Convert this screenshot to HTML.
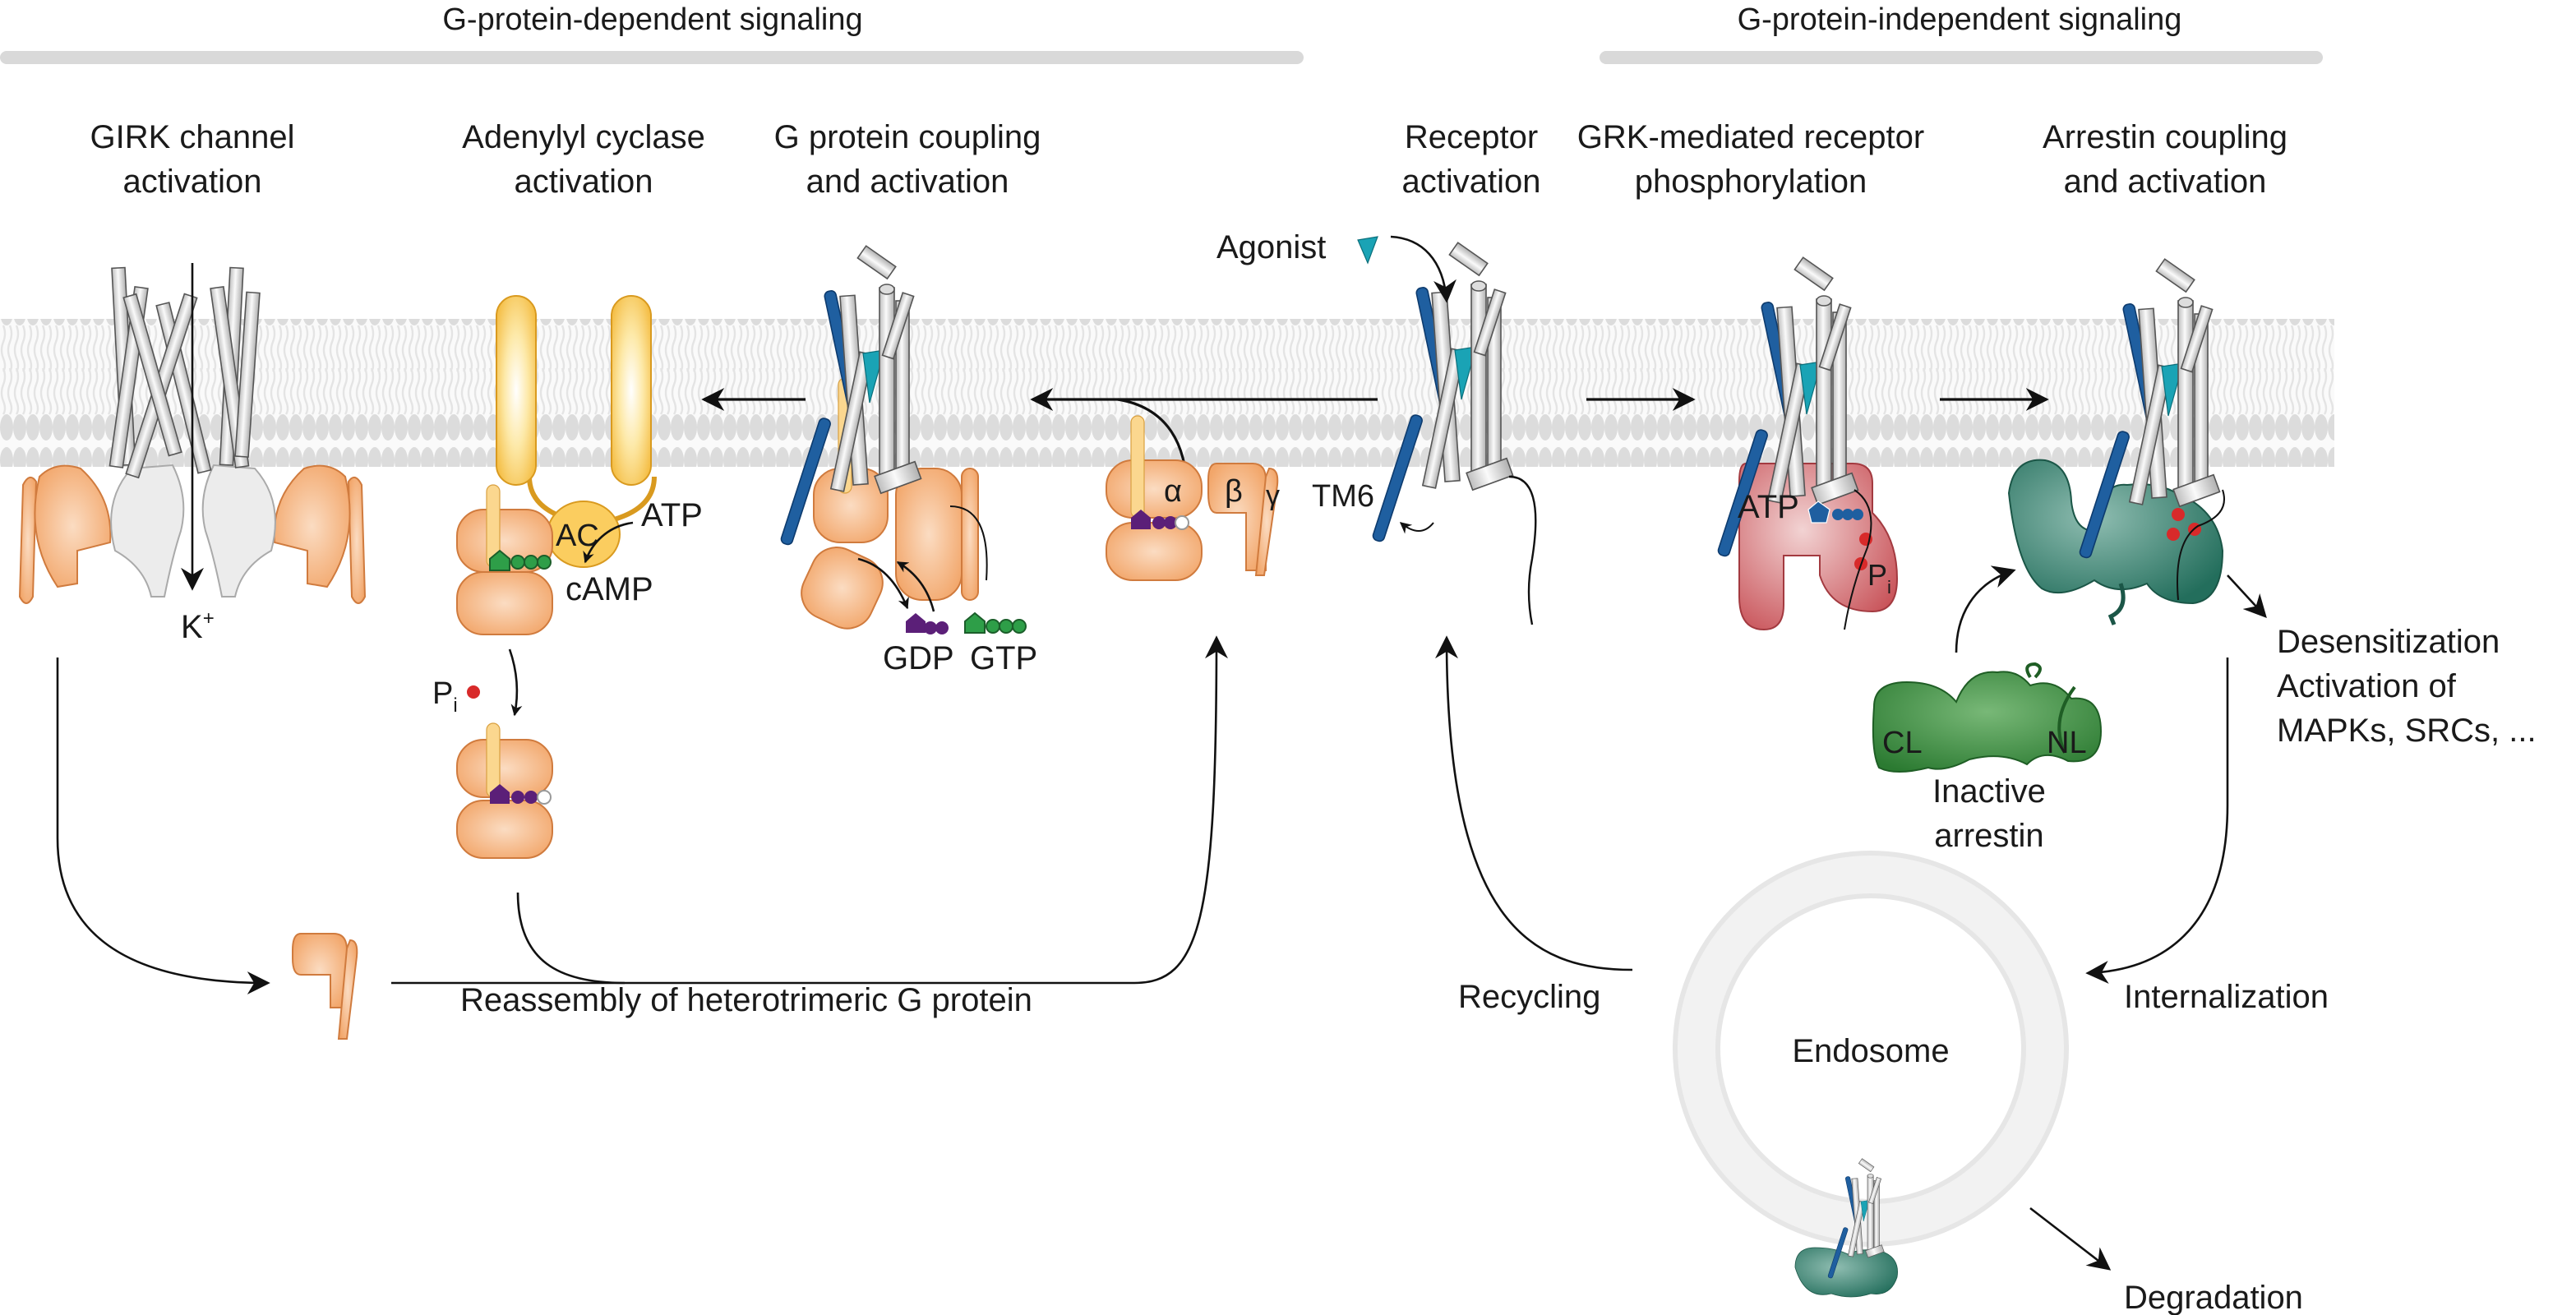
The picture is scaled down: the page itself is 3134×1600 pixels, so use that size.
<!DOCTYPE html>
<html><head><meta charset="utf-8"><style>
html,body{margin:0;padding:0;background:#fff;}
svg{display:block;}
text{font-family:"Liberation Sans",sans-serif;fill:#1a1a1a;}
</style></head><body>
<svg width="3134" height="1600" viewBox="0 0 1567 800" xmlns="http://www.w3.org/2000/svg">
<defs>
<marker id="ah" viewBox="0 0 10 10" refX="9" refY="5" markerWidth="7" markerHeight="7" orient="auto-start-reverse" markerUnits="userSpaceOnUse"><path d="M0,0 L10,5 L0,10 L3,5z" fill="#111"/></marker>
<marker id="ah2" viewBox="0 0 10 10" refX="9" refY="5" markerWidth="14" markerHeight="14" orient="auto" markerUnits="userSpaceOnUse"><path d="M0,0 L10,5 L0,10 L3,5z" fill="#111"/></marker>
<pattern id="lip" width="8" height="90" patternUnits="userSpaceOnUse">
<rect width="8" height="90" fill="#fafafa"/>
<ellipse cx="4" cy="10" rx="4" ry="8" fill="#dcdcdc"/>
<ellipse cx="4" cy="80" rx="4" ry="8" fill="#dcdcdc"/>
<path d="M2,18 q2,5 0,10 q-2,5 0,10 q2,5 0,8 M6,18 q2,5 0,10 q-2,5 0,10 q2,5 0,8 M2,44 q2,5 0,10 q-2,5 0,10 q2,5 0,8 M6,44 q2,5 0,10 q-2,5 0,10 q2,5 0,8" stroke="#e4e4e4" stroke-width="1.2" fill="none"/>
</pattern>
<linearGradient id="cyl" x1="0" x2="1" y1="0" y2="0"><stop offset="0" stop-color="#bdbdbd"/><stop offset="0.45" stop-color="#fafafa"/><stop offset="1" stop-color="#b0b0b0"/></linearGradient>
<radialGradient id="org" cx="0.5" cy="0.5" r="0.6"><stop offset="0" stop-color="#fbdcc2"/><stop offset="1" stop-color="#f2a66a"/></radialGradient>
<radialGradient id="yel" cx="0.5" cy="0.5" r="0.6"><stop offset="0" stop-color="#fff"/><stop offset="0.5" stop-color="#fde9a8"/><stop offset="1" stop-color="#f5c04a"/></radialGradient>
<radialGradient id="red" cx="0.4" cy="0.4" r="0.7"><stop offset="0" stop-color="#f2d3d3"/><stop offset="1" stop-color="#c9555b"/></radialGradient>
<radialGradient id="tea" cx="0.4" cy="0.4" r="0.7"><stop offset="0" stop-color="#8fbdb1"/><stop offset="1" stop-color="#236e5c"/></radialGradient>
<radialGradient id="grn" cx="0.5" cy="0.4" r="0.7"><stop offset="0" stop-color="#78b877"/><stop offset="1" stop-color="#2b7a31"/></radialGradient>
<g id="rec">
 <rect x="-6" y="-26" width="9" height="22" fill="url(#cyl)" stroke="#555" stroke-width="0.8" transform="rotate(-55 -2 -15)"/>
 <rect x="-34" y="2" width="7" height="75" rx="3" fill="#1f5fa0" stroke="#0d3b6e" stroke-width="0.8" transform="rotate(-12 -30 2)"/>
 <rect x="-36" y="80" width="7" height="80" rx="3" fill="#1f5fa0" stroke="#0d3b6e" stroke-width="0.8" transform="rotate(18 -32 80)"/>
 <rect x="-24" y="5" width="9" height="115" fill="url(#cyl)" stroke="#555" stroke-width="0.8" transform="rotate(-4 -20 5)"/>
 <rect x="-12" y="40" width="8" height="85" fill="url(#cyl)" stroke="#555" stroke-width="0.8" transform="rotate(12 -8 40)"/>
 <path d="M-10,40 L3,38 L-6,70z" fill="#1aa3b5" stroke="#0b6f7b" stroke-width="0.6"/>
 <rect x="0" y="0" width="9" height="120" fill="url(#cyl)" stroke="#555" stroke-width="0.8"/>
 <rect x="10" y="8" width="8" height="110" fill="url(#cyl)" stroke="#555" stroke-width="0.8"/>
 <rect x="14" y="4" width="7" height="40" fill="url(#cyl)" stroke="#555" stroke-width="0.8" transform="rotate(18 17 4)"/>
 <ellipse cx="4.5" cy="1" rx="4.5" ry="3" fill="#ddd" stroke="#555" stroke-width="0.8"/>
 <rect x="-2" y="110" width="26" height="11" fill="url(#cyl)" stroke="#555" stroke-width="0.8" transform="rotate(-20 11 115)"/>
</g>
</defs>

<text x="397" y="18" font-size="19" text-anchor="middle">G-protein-dependent signaling</text>
<rect x="0" y="31" width="793" height="8" rx="4" fill="#d9d9d9"/>
<text x="1192" y="18" font-size="19" text-anchor="middle">G-protein-independent signaling</text>
<rect x="973" y="31" width="440" height="8" rx="4" fill="#d9d9d9"/>

<g font-size="20" text-anchor="middle">
<text x="117" y="90">GIRK channel</text><text x="117" y="117">activation</text>
<text x="355" y="90">Adenylyl cyclase</text><text x="355" y="117">activation</text>
<text x="552" y="90">G protein coupling</text><text x="552" y="117">and activation</text>
<text x="895" y="90">Receptor</text><text x="895" y="117">activation</text>
<text x="1065" y="90">GRK-mediated receptor</text><text x="1065" y="117">phosphorylation</text>
<text x="1317" y="90">Arrestin coupling</text><text x="1317" y="117">and activation</text>
</g>

<rect x="0" y="194" width="1420" height="90" fill="url(#lip)"/>

<g stroke="#111" stroke-width="1.6" fill="none">
<line x1="838" y1="243" x2="628" y2="243" marker-end="url(#ah2)"/>
<line x1="490" y1="243" x2="428" y2="243" marker-end="url(#ah2)"/>
<line x1="965" y1="243" x2="1030" y2="243" marker-end="url(#ah2)"/>
<line x1="1180" y1="243" x2="1245" y2="243" marker-end="url(#ah2)"/>
<path d="M722,300 C722,270 710,248 680,243"/>
</g>

<!-- GIRK -->
<g>
<path d="M14,295 q4,-8 8,-2 l-2,70 q-4,8 -8,0z" fill="url(#org)" stroke="#d07b3e"/>
<path d="M24,290 q10,-10 25,-5 q20,18 18,45 l-20,5 v20 l-12,2 q-20,-30 -11,-67z" fill="url(#org)" stroke="#d07b3e"/>
<path d="M220,295 q-4,-8 -8,-2 l2,70 q4,8 8,0z" fill="url(#org)" stroke="#d07b3e"/>
<path d="M210,290 q-10,-10 -25,-5 q-20,18 -18,45 l20,5 v20 l12,2 q20,-30 11,-67z" fill="url(#org)" stroke="#d07b3e"/>
<path d="M80,285 q-18,20 -10,50 q18,10 22,28 h8 q5,-25 10,-40 q5,-20 -5,-40z" fill="#ececec" stroke="#aaa"/>
<path d="M155,285 q18,20 10,50 q-18,10 -22,28 h-8 q-5,-25 -10,-40 q-5,-20 5,-40z" fill="#ececec" stroke="#aaa"/>
<g fill="url(#cyl)" stroke="#555" stroke-width="0.8">
<rect x="68" y="163" width="8" height="120" transform="rotate(-3 72 163)"/>
<rect x="82" y="175" width="8" height="110" transform="rotate(8 86 175)"/>
<rect x="95" y="185" width="8" height="105" transform="rotate(-14 99 185)"/>
<rect x="140" y="163" width="8" height="120" transform="rotate(3 144 163)"/>
<rect x="128" y="175" width="8" height="110" transform="rotate(-8 132 175)"/>
<rect x="112" y="180" width="8" height="115" transform="rotate(18 116 180)"/>
<rect x="150" y="178" width="8" height="100" transform="rotate(4 154 178)"/>
<rect x="75" y="180" width="8" height="100" transform="rotate(-16 79 180)"/>
</g>
<line x1="117" y1="160" x2="117" y2="358" stroke="#111" stroke-width="1.3" marker-end="url(#ah2)"/>
<text x="110" y="388" font-size="20">K<tspan font-size="12" dy="-8">+</tspan></text>
</g>

<!-- Adenylyl cyclase -->
<g>
<path d="M322,290 q0,20 28,27 M398,290 q0,20 -28,27" stroke="#d99a1f" stroke-width="3" fill="none"/>
<rect x="302" y="180" width="24" height="115" rx="12" fill="url(#yel)" stroke="#d99a1f"/>
<rect x="372" y="180" width="24" height="115" rx="12" fill="url(#yel)" stroke="#d99a1f"/>
<ellipse cx="355" cy="325" rx="22" ry="20" fill="#fbcd5f" stroke="#d99a1f"/>
<rect x="278" y="310" width="58" height="38" rx="16" fill="url(#org)" stroke="#d07b3e"/>
<rect x="278" y="348" width="58" height="38" rx="16" fill="url(#org)" stroke="#d07b3e"/>
<text x="338" y="332" font-size="19">AC</text>
<rect x="296" y="295" width="8" height="50" rx="4" fill="#fbd78f" stroke="#d9a040" stroke-width="0.6"/>
<path d="M298,340 l6,-5 l6,5 v7 h-12z" fill="#2e9e48" stroke="#1b5e2a"/>
<circle cx="315" cy="342" r="4" fill="#2e9e48" stroke="#1b5e2a"/><circle cx="323" cy="342" r="4" fill="#2e9e48" stroke="#1b5e2a"/><circle cx="331" cy="342" r="4" fill="#2e9e48" stroke="#1b5e2a"/>
<text x="390" y="320" font-size="20">ATP</text>
<path d="M385,318 C370,320 360,330 356,342" stroke="#111" stroke-width="1.3" fill="none" marker-end="url(#ah)"/>
<text x="344" y="365" font-size="20">cAMP</text>
<path d="M310,395 q7,20 3,40" stroke="#111" stroke-width="1.3" fill="none" marker-end="url(#ah)"/>
<text x="263" y="428" font-size="19">P<tspan font-size="12" dy="5">i</tspan></text>
<circle cx="288" cy="421" r="4" fill="#d82a2a"/>
<rect x="278" y="450" width="58" height="35" rx="16" fill="url(#org)" stroke="#d07b3e"/>
<rect x="278" y="487" width="58" height="35" rx="16" fill="url(#org)" stroke="#d07b3e"/>
<rect x="296" y="440" width="8" height="45" rx="4" fill="#fbd78f" stroke="#d9a040" stroke-width="0.6"/>
<path d="M298,482 l6,-5 l6,5 v7 h-12z" fill="#5b1f78"/>
<circle cx="315" cy="485" r="4" fill="#5b1f78"/><circle cx="323" cy="485" r="4" fill="#5b1f78"/><circle cx="331" cy="485" r="4" fill="#fff" stroke="#999"/>
</g>

<!-- G protein coupling -->
<g>
<rect x="495" y="285" width="45" height="45" rx="16" fill="url(#org)" stroke="#d07b3e"/>
<rect x="545" y="285" width="40" height="80" rx="16" fill="url(#org)" stroke="#d07b3e"/>
<rect x="585" y="285" width="10" height="80" rx="5" fill="url(#org)" stroke="#d07b3e"/>
<rect x="490" y="335" width="45" height="45" rx="16" fill="url(#org)" stroke="#d07b3e" transform="rotate(25 512 357)"/>
<rect x="510" y="230" width="8" height="70" rx="4" fill="#fbd78f" stroke="#d9a040" stroke-width="0.6"/>
<use href="#rec" x="535" y="175"/>
<path d="M522,340 q20,5 30,30" stroke="#111" stroke-width="1.3" fill="none" marker-end="url(#ah)"/>
<path d="M568,372 q-5,-20 -22,-30" stroke="#111" stroke-width="1.3" fill="none" marker-end="url(#ah)"/>
<path d="M578,308 q25,0 22,45" stroke="#111" stroke-width="1" fill="none"/>
<path d="M551,378 l6,-5 l6,5 v7 h-12z" fill="#5b1f78"/><circle cx="566" cy="382" r="4" fill="#5b1f78"/><circle cx="573" cy="382" r="4" fill="#5b1f78"/>
<path d="M587,378 l6,-5 l6,5 v7 h-12z" fill="#2e9e48" stroke="#1b5e2a"/><circle cx="604" cy="381" r="4" fill="#2e9e48" stroke="#1b5e2a"/><circle cx="612" cy="381" r="4" fill="#2e9e48" stroke="#1b5e2a"/><circle cx="620" cy="381" r="4" fill="#2e9e48" stroke="#1b5e2a"/>
<text x="537" y="407" font-size="20">GDP</text><text x="590" y="407" font-size="20">GTP</text>
</g>

<!-- heterotrimer -->
<g>
<rect x="673" y="280" width="58" height="35" rx="16" fill="url(#org)" stroke="#d07b3e"/>
<rect x="673" y="318" width="58" height="35" rx="16" fill="url(#org)" stroke="#d07b3e"/>
<rect x="688" y="253" width="8" height="62" rx="4" fill="#fbd78f" stroke="#d9a040" stroke-width="0.6"/>
<path d="M688,315 l6,-5 l6,5 v7 h-12z" fill="#5b1f78"/><circle cx="705" cy="318" r="4" fill="#5b1f78"/><circle cx="712" cy="318" r="4" fill="#5b1f78"/><circle cx="719" cy="318" r="4" fill="#fff" stroke="#999"/>
<text x="708" y="305" font-size="19">α</text>
<path d="M740,282 h22 q8,0 8,10 v55 h-12 v-35 h-18 q-5,0 -5,-12 v-8 q0,-10 5,-10z" fill="url(#org)" stroke="#d07b3e"/>
<path d="M772,285 q6,0 5,10 l-8,55 h-5 l6,-60z" fill="url(#org)" stroke="#d07b3e"/>
<text x="745" y="305" font-size="19">β</text><text x="770" y="307" font-size="17">γ</text>
</g>

<!-- Receptor activation -->
<use href="#rec" x="895" y="173"/>
<text x="798" y="308" font-size="19">TM6</text>
<path d="M872,318 q-8,10 -20,0" stroke="#111" stroke-width="1" fill="none" marker-end="url(#ah)"/>
<path d="M918,290 q22,0 14,50 q-4,20 0,40" stroke="#111" stroke-width="1.2" fill="none"/>
<text x="740" y="157" font-size="20">Agonist</text>
<path d="M826,146 L838,144 L832,160z" fill="#1aa3b5" stroke="#0b6f7b" stroke-width="0.6"/>
<path d="M846,144 C865,145 878,158 880,183" stroke="#111" stroke-width="1.3" fill="none" marker-end="url(#ah2)"/>

<!-- GRK -->
<g>
<path d="M1062,282 h65 q12,0 12,12 v18 q15,15 15,40 q0,20 -15,20 q-25,0 -32,-22 v-12 h-22 v30 q0,15 -12,15 q-15,0 -15,-20 v-70 q0,-11 4,-11z" fill="url(#red)" stroke="#a33a40"/>
<use href="#rec" x="1105" y="182"/>
<text x="1057" y="315" font-size="20">ATP</text>
<path d="M1100,310 l6,-5 l7,5 -2,8 h-9z" fill="#1f5fa0" stroke="#fff" stroke-width="0.6"/>
<circle cx="1118" cy="313" r="3.5" fill="#1f5fa0"/><circle cx="1124" cy="313" r="3.5" fill="#1f5fa0"/><circle cx="1130" cy="313" r="3.5" fill="#1f5fa0"/>
<circle cx="1135" cy="328" r="4" fill="#d82a2a"/><circle cx="1132" cy="343" r="4" fill="#d82a2a"/>
<text x="1136" y="356" font-size="18">P<tspan font-size="11" dy="5">i</tspan></text>
<path d="M1128,298 q15,10 8,35 q-10,25 -14,50" stroke="#111" stroke-width="1" fill="none"/>
</g>

<!-- arrestin coupling -->
<g>
<path d="M1222,300 q3,-22 22,-20 q15,3 16,25 q2,18 14,18 q3,-30 20,-28 q18,-2 30,5 q25,10 28,35 q0,30 -18,32 q-20,0 -28,-12 q-18,8 -32,-2 q-20,12 -32,5 q-15,-12 -20,-58z" fill="url(#tea)" stroke="#1b5647"/>
<path d="M1290,355 q5,15 -6,20 l2,5" stroke="#1b5647" stroke-width="2.5" fill="none"/>
<use href="#rec" x="1325" y="183"/>
<circle cx="1325" cy="313" r="4" fill="#d82a2a"/><circle cx="1335" cy="322" r="4" fill="#d82a2a"/><circle cx="1322" cy="325" r="4" fill="#d82a2a"/>
<path d="M1352,298 q5,15 -15,22 q-15,10 -12,45" stroke="#111" stroke-width="1" fill="none"/>
<line x1="1355" y1="350" x2="1378" y2="375" stroke="#111" stroke-width="1.3" marker-end="url(#ah2)"/>
<text x="1385" y="397" font-size="20">Desensitization</text>
<text x="1385" y="424" font-size="20">Activation of</text>
<text x="1385" y="451" font-size="20">MAPKs, SRCs, ...</text>
</g>

<!-- inactive arrestin -->
<g>
<path d="M1140,430 q0,-15 20,-15 q20,0 30,12 q8,-20 25,-18 q12,-2 20,8 q15,-5 25,8 q18,-2 18,20 q0,20 -20,18 q-15,-8 -25,2 q-15,-8 -35,-3 q-15,8 -25,5 q-20,5 -30,0 q-5,-10 -3,-37z" fill="url(#grn)" stroke="#1f5e25"/>
<path d="M1235,412 q-5,-8 3,-8 q6,2 0,8 M1262,418 q-15,20 -6,40" stroke="#1f5e25" stroke-width="2" fill="none"/>
<text x="1145" y="458" font-size="19">CL</text><text x="1245" y="458" font-size="19">NL</text>
<text x="1210" y="488" font-size="20" text-anchor="middle">Inactive</text>
<text x="1210" y="515" font-size="20" text-anchor="middle">arrestin</text>
<path d="M1190,397 C1190,375 1200,355 1225,347" stroke="#111" stroke-width="1.3" fill="none" marker-end="url(#ah2)"/>
</g>

<g stroke="#111" stroke-width="1.3" fill="none">
<path d="M35,400 V510 C35,570 80,598 163,598" marker-end="url(#ah2)"/>
<path d="M238,598 H690 C730,598 740,560 740,388" marker-end="url(#ah2)"/>
<path d="M315,543 C315,585 340,598 380,598"/>
<path d="M993,590 C930,590 880,560 880,388" marker-end="url(#ah2)"/>
<path d="M1355,400 V490 C1355,560 1320,590 1270,592" marker-end="url(#ah2)"/>
<line x1="1235" y1="735" x2="1283" y2="772" marker-end="url(#ah2)"/>
</g>
<path d="M183,568 h20 q8,0 8,10 v35 h-10 v-20 h-18 q-5,0 -5,-10 v-5 q0,-10 5,-10z" fill="url(#org)" stroke="#d07b3e"/>
<path d="M213,572 q5,0 4,10 l-6,50 h-5 l5,-55z" fill="url(#org)" stroke="#d07b3e"/>
<text x="280" y="615" font-size="20">Reassembly of heterotrimeric G protein</text>
<text x="887" y="613" font-size="20">Recycling</text>
<text x="1292" y="613" font-size="20">Internalization</text>
<text x="1292" y="796" font-size="20">Degradation</text>

<!-- endosome -->
<circle cx="1138" cy="638" r="106" fill="none" stroke="#f2f2f2" stroke-width="28"/>
<circle cx="1138" cy="638" r="119" fill="none" stroke="#e6e6e6" stroke-width="3"/>
<circle cx="1138" cy="638" r="93" fill="none" stroke="#e6e6e6" stroke-width="3"/>
<text x="1138" y="646" font-size="20" text-anchor="middle">Endosome</text>
<g transform="translate(1136,715) scale(0.4)">
<path d="M-110,140 q0,-30 30,-30 q30,0 50,10 q20,-10 50,-5 q30,10 25,40 q-10,30 -40,25 q-30,10 -60,0 q-40,10 -55,-40z" fill="url(#tea)" stroke="#1b5647"/>
<use href="#rec" x="0" y="0"/>
</g>
</svg>
</body></html>
